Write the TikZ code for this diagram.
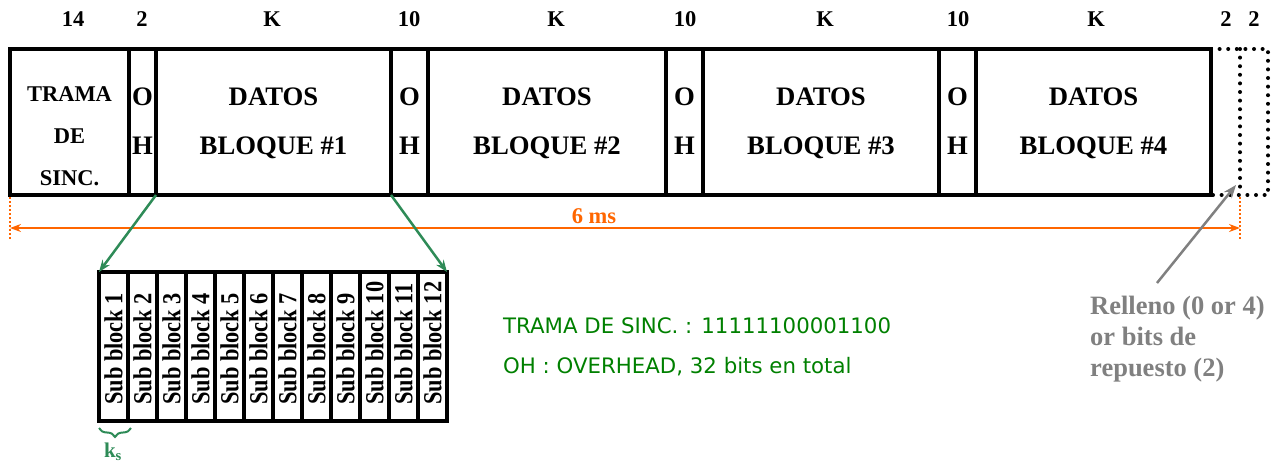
\documentclass[tikz,border=0pt]{standalone}
\usepackage{fontspec}
\setmainfont{Liberation Serif}
\newfontfamily\notefont{DejaVu Sans}
\usetikzlibrary{arrows.meta,decorations.pathreplacing}
\definecolor{grn}{RGB}{46,139,87}
\definecolor{txtgreen}{RGB}{0,128,0}
\definecolor{orng}{RGB}{255,102,0}
\definecolor{gry}{RGB}{128,128,128}
\begin{document}
\begin{tikzpicture}[x=1pt,y=-1pt,
  box/.style={draw, line width=4pt, inner sep=0pt, outer sep=0pt, minimum height=146pt},
  cell/.style={draw, line width=4pt, inner sep=0pt, outer sep=0pt, minimum height=149pt, minimum width=29pt},
  toplbl/.style={anchor=base, inner sep=0pt, font=\fontsize{22.5}{27}\selectfont\bfseries},
  inlbl/.style={anchor=base, inner sep=0pt, font=\fontsize{26.7}{32}\selectfont\bfseries},
  synclbl/.style={anchor=base, inner sep=0pt, font=\fontsize{22.5}{27}\selectfont\bfseries},
  sbtxt/.style={anchor=west, rotate=90, inner sep=0pt, font=\fontsize{26}{30}\selectfont\bfseries},
  graylbl/.style={anchor=base west, inner sep=0pt, text=gry, font=\fontsize{26.5}{31}\selectfont\bfseries},
  notelbl/.style={anchor=base west, inner sep=0pt, text=txtgreen, font=\notefont\fontsize{21.3}{25}\selectfont},
  dotline/.style={line width=4pt, dash pattern=on 0pt off 8.6pt, line cap=round},
  odot/.style={orng, line width=2pt, dash pattern=on 2pt off 2pt},
  conn/.style={grn, line width=2.5pt, -{Stealth[length=12pt,width=9pt]}},
]
\useasboundingbox (0,0) rectangle (1281,463);

% main frame boxes
\node[box, minimum width=119pt] (sync) at (69.5,122) {};
\node[box, minimum width=27pt]  (oh1)  at (142.5,122) {};
\node[box, minimum width=235pt] (d1)   at (273.5,122) {};
\node[box, minimum width=37pt]  (oh2)  at (409.5,122) {};
\node[box, minimum width=238pt] (d2)   at (547,122) {};
\node[box, minimum width=37pt]  (oh3)  at (684.5,122) {};
\node[box, minimum width=236pt] (d3)   at (821,122) {};
\node[box, minimum width=37pt]  (oh4)  at (957.5,122) {};
\node[box, minimum width=235pt] (d4)   at (1093.5,122) {};

% top labels
\node[toplbl] (t1) at (73,26) {14};
\node[toplbl] (t2) at (142,26) {2};
\node[toplbl] (t3) at (272,26) {K};
\node[toplbl] (t4) at (409,26) {10};
\node[toplbl] (t5) at (556,26) {K};
\node[toplbl] (t6) at (685,26) {10};
\node[toplbl] (t7) at (825,26) {K};
\node[toplbl] (t8) at (958,26) {10};
\node[toplbl] (t9) at (1096,26) {K};
\node[toplbl] (t10) at (1226,26) {2};
\node[toplbl] (t11) at (1254,26) {2};

% sync text
\node[synclbl] (s1) at (69.5,101) {TRAMA};
\node[synclbl] (s2) at (69.5,143) {DE};
\node[synclbl] (s3) at (69.5,185) {SINC.};

% OH texts
\foreach \n/\x in {o1/142.5, o2/409.5, o3/684.5, o4/957.5}{
  \node[inlbl] (\n a) at (\x,105) {O};
  \node[inlbl] (\n b) at (\x,154) {H};
}
% data texts
\foreach \n/\x/\k in {b1/273.5/1, b2/547/2, b3/821/3, b4/1093.5/4}{
  \node[inlbl] (\n a) at (\x,105) {DATOS};
  \node[inlbl] (\n b) at (\x,154) {BLOQUE \#\k};
}

% dotted padding region
\coordinate (pt) at (1240,49);
\coordinate (pb) at (1240,195);
\coordinate (qt) at (1268,49);
\coordinate (qb) at (1268,195);
\draw[dotline] (d4.north east) -- (qt) -- (qb) -- (d4.south east);
\draw[dotline] (pt) -- (pb);

% orange duration arrow
\coordinate (ol1) at (10,197);
\coordinate (ol2) at (10,240);
\coordinate (or1) at (1240,197);
\coordinate (or2) at (1240,240);
\coordinate (al) at (10,228);
\coordinate (ar) at (1240,228);
\draw[odot] (ol1) -- (ol2);
\draw[odot] (or1) -- (or2);
\draw[orng, line width=2.2pt, {Stealth[length=11pt,width=8pt]}-{Stealth[length=11pt,width=8pt]}] (al) -- (ar);
\node[anchor=base, inner sep=0pt, text=orng, font=\fontsize{22.5}{27}\selectfont\bfseries] (ms) at (594,223) {6 ms};

% sub blocks
\foreach \i in {1,...,12}{
  \node[cell] (sb\i) at ({99+29*(\i-0.5)},346.5) {};
  \node[sbtxt] (st\i) at ({99+29*(\i-0.5)},405) {\scalebox{0.86}[1]{Sub block \i}};
}

% green connectors
\draw[conn] (d1.south west) -- (sb1.north west);
\draw[conn] (d1.south east) -- (sb12.north east);

% brace and k_s
\coordinate (bl) at (99,428);
\coordinate (br) at (131,428);
\draw[grn, line width=2pt, decorate, decoration={brace, amplitude=9pt, mirror}] (bl) -- (br);
\node[anchor=base, inner sep=0pt, text=grn, font=\fontsize{21}{25}\selectfont\bfseries] (ks) at (113,457) {k\textsubscript{s}};

% notes
\node[notelbl] (n1) at (503,333) {TRAMA DE SINC. : 11111100001100};
\node[notelbl] (n2) at (503,373) {OH : OVERHEAD, 32 bits en total};

% relleno
\node[graylbl] (r1) at (1090,314) {Relleno (0 or 4)};
\node[graylbl] (r2) at (1090,345) {or bits de};
\node[graylbl] (r3) at (1090,376) {repuesto (2)};
\coordinate (gs) at (1157,283);
\coordinate (ge) at (1236,185);
\draw[gry, line width=2.5pt, -{Stealth[length=13pt,width=10pt]}] (gs) -- (ge);
\end{tikzpicture}
\end{document}
